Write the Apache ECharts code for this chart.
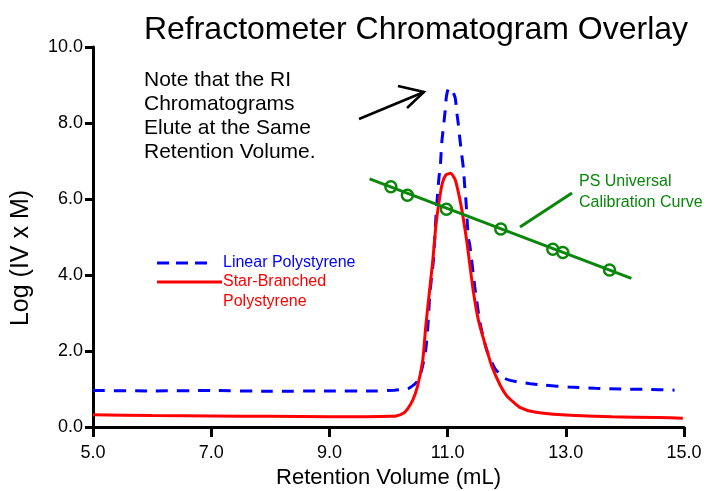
<!doctype html>
<html>
<head>
<meta charset="utf-8">
<title>Refractometer Chromatogram Overlay</title>
<style>
  html, body { margin: 0; padding: 0; background: #fff; }
  #main { width: 709px; height: 491px; }
</style>
</head>
<body>
<div id="main"></div>
<script src="https://cdn.jsdelivr.net/npm/echarts@6/dist/echarts.min.js"></script>
<script>
var FONT = "'Liberation Sans', Arial, Helvetica, sans-serif";

// linear polystyrene RI trace (blue dashed)
var linearX = [5.0, 6.0, 7.0, 8.0, 9.0, 9.8, 10.1, 10.3, 10.36, 10.48, 10.56, 10.63, 10.67, 10.70, 10.76, 10.79, 10.81, 10.85, 10.88, 10.90, 10.93, 10.96, 10.98, 11.02, 11.08, 11.13, 11.15, 11.18, 11.21, 11.24, 11.27, 11.29, 11.31, 11.33, 11.35, 11.38, 11.46, 11.55, 11.66, 11.80, 11.97, 12.17, 12.40, 12.65, 13.05, 13.50, 13.92, 14.34, 14.84];
var linearY = [0.96, 0.95, 0.96, 0.94, 0.95, 0.95, 0.97, 1.00, 1.03, 1.19, 1.50, 2.03, 2.73, 3.52, 4.39, 5.18, 5.71, 6.50, 6.94, 7.47, 7.90, 8.34, 8.70, 8.92, 8.85, 8.65, 8.34, 7.99, 7.55, 7.16, 6.76, 6.32, 5.97, 5.45, 5.00, 4.74, 3.69, 2.73, 2.03, 1.54, 1.28, 1.19, 1.14, 1.10, 1.05, 1.02, 1.00, 0.99, 0.97];

// star-branched polystyrene RI trace (red)
var starX = [5.0, 6.0, 7.0, 8.0, 9.0, 9.6, 10.0, 10.13, 10.25, 10.32, 10.41, 10.49, 10.58, 10.63, 10.69, 10.75, 10.80, 10.86, 10.91, 10.97, 11.05, 11.13, 11.21, 11.27, 11.33, 11.38, 11.44, 11.52, 11.63, 11.75, 11.89, 12.00, 12.11, 12.23, 12.45, 12.93, 13.78, 14.56, 14.98];
var starY = [0.32, 0.30, 0.29, 0.28, 0.27, 0.27, 0.28, 0.29, 0.36, 0.47, 0.71, 1.06, 1.76, 2.64, 3.52, 4.39, 5.27, 5.97, 6.41, 6.63, 6.68, 6.50, 5.97, 5.45, 4.83, 4.22, 3.52, 2.82, 2.20, 1.59, 1.10, 0.82, 0.66, 0.51, 0.40, 0.32, 0.27, 0.25, 0.23];

// PS universal calibration standards and fitted line (green)
var calibX = [10.04, 10.32, 10.98, 11.90, 12.78, 12.95, 13.74];
var calibY = [6.32, 6.10, 5.73, 5.21, 4.68, 4.59, 4.13];
var fitX = [9.68, 14.11];
var fitY = [6.53, 3.91];

var xTicks = [5.0, 7.0, 9.0, 11.0, 13.0, 15.0];
var yTicks = [0.0, 2.0, 4.0, 6.0, 8.0, 10.0];

function zip(xs, ys) {
    return xs.map(function (x, i) { return [x, ys[i]]; });
}

var BLUE = '#0000ff', RED = '#ff0000', GREEN = '#0a870a';

var chart = echarts.init(document.getElementById('main'));

var axisCommon = {
    type: 'value',
    nameLocation: 'middle',
    axisLine: { onZero: false, lineStyle: { color: '#000', width: 3 } },
    axisLabel: { fontFamily: FONT, fontSize: 18, color: '#000',
        formatter: function (v) { return v.toFixed(1); } },
    splitLine: { show: false }
};

chart.setOption({
    animation: false,
    grid: { left: 93, right: 25, top: 47, bottom: 64, containLabel: false, outerBoundsMode: 'none' },
    xAxis: Object.assign({}, axisCommon, {
        min: xTicks[0], max: xTicks[xTicks.length - 1], interval: 2,
        name: 'Retention Volume (mL)', nameGap: 40,
        nameTextStyle: { fontFamily: FONT, fontSize: 22, color: '#000' },
        axisTick: { length: 10, lineStyle: { color: '#000', width: 3 } },
        axisLabel: Object.assign({}, axisCommon.axisLabel, { margin: 17 })
    }),
    yAxis: Object.assign({}, axisCommon, {
        min: yTicks[0], max: yTicks[yTicks.length - 1], interval: 2,
        name: 'Log (IV x M)', nameGap: 59,
        nameTextStyle: { fontFamily: FONT, fontSize: 25, color: '#000', padding: [0, 42, 0, 0] },
        axisTick: { length: 8, lineStyle: { color: '#000', width: 3 } },
        axisLabel: Object.assign({}, axisCommon.axisLabel, { margin: 10 })
    }),
    series: [{
        name: 'Linear Polystyrene',
        type: 'line',
        data: zip(linearX, linearY),
        showSymbol: false,
        smooth: 0.2,
        lineStyle: { color: BLUE, width: 3, type: [12, 9] }
    }, {
        name: 'Star-Branched Polystyrene',
        type: 'line',
        data: zip(starX, starY),
        showSymbol: false,
        smooth: 0.2,
        lineStyle: { color: RED, width: 3 }
    }, {
        name: 'PS Universal Calibration Curve',
        type: 'line',
        data: zip(fitX, fitY),
        showSymbol: false,
        lineStyle: { color: GREEN, width: 3 }
    }, {
        name: 'PS standards',
        type: 'scatter',
        data: zip(calibX, calibY),
        symbol: 'circle',
        symbolSize: 11,
        itemStyle: { color: '#fff', borderColor: GREEN, borderWidth: 2.5, opacity: 1 }
    }],
    graphic: [
        {
            type: 'text', x: 416, y: 30,
            style: { text: 'Refractometer Chromatogram Overlay', fontFamily: FONT, fontSize: 32,
                fill: '#000', align: 'center', verticalAlign: 'middle' }
        },
        {
            type: 'text', x: 144, y: 68,
            style: { text: 'Note that the RI\nChromatograms\nElute at the Same\nRetention Volume.',
                fontFamily: FONT, fontSize: 21, lineHeight: 24, fill: '#000',
                align: 'left', verticalAlign: 'top' }
        },
        {
            type: 'polyline',
            shape: { points: [[359, 119], [424, 92]] },
            style: { stroke: '#000', lineWidth: 2.5, fill: null }
        },
        {
            type: 'polyline',
            shape: { points: [[398, 86], [424, 92], [407, 108]] },
            style: { stroke: '#000', lineWidth: 2.5, fill: null }
        },
        {
            type: 'polyline',
            shape: { points: [[520, 227], [572, 193]] },
            style: { stroke: GREEN, lineWidth: 3, fill: null }
        },
        {
            type: 'text', x: 579, y: 171,
            style: { text: 'PS Universal\nCalibration Curve', fontFamily: FONT, fontSize: 16,
                lineHeight: 21, fill: GREEN, align: 'left', verticalAlign: 'top' }
        },
        {
            type: 'line',
            shape: { x1: 157, y1: 263, x2: 207, y2: 263 },
            style: { stroke: BLUE, lineWidth: 3, lineDash: [12, 7] }
        },
        {
            type: 'text', x: 223, y: 263,
            style: { text: 'Linear Polystyrene', fontFamily: FONT, fontSize: 16, fill: BLUE,
                align: 'left', verticalAlign: 'middle' }
        },
        {
            type: 'line',
            shape: { x1: 157, y1: 282, x2: 222, y2: 282 },
            style: { stroke: RED, lineWidth: 3 }
        },
        {
            type: 'text', x: 223, y: 272,
            style: { text: 'Star-Branched\nPolystyrene', fontFamily: FONT, fontSize: 16,
                lineHeight: 20, fill: RED, align: 'left', verticalAlign: 'top' }
        }
    ]
});

window.addEventListener('resize', chart.resize);
</script>
</body>
</html>
